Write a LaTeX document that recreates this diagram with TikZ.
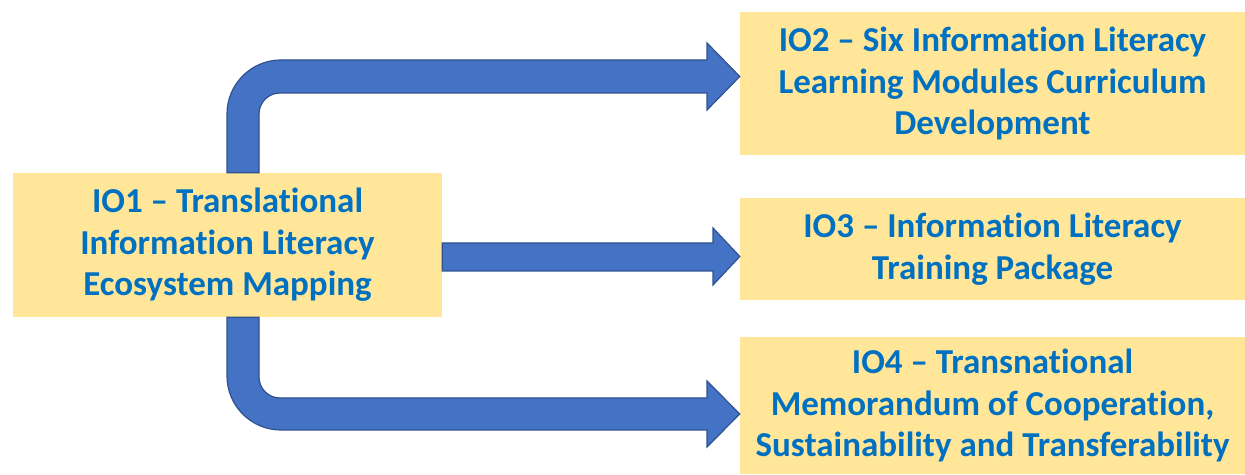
\documentclass[tikz,border=0pt]{standalone}
\usepackage{fontspec}
\setmainfont{Carlito}[Ligatures=NoCommon]
\usetikzlibrary{calc}
\definecolor{boxfill}{HTML}{FFE699}
\definecolor{boxtext}{HTML}{0070C0}
\definecolor{arrfill}{HTML}{4472C4}
\definecolor{arrline}{HTML}{2F528F}
\begin{document}
\begin{tikzpicture}
    [x=1pt,y=1pt,
     io/.style={fill=boxfill,text=boxtext,align=center,inner sep=0pt,
       font=\bfseries\fontsize{35}{41.5}\selectfont},
     blockarrow/.style={fill=arrfill,draw=arrline,line width=1.2pt,line join=miter}]
    \useasboundingbox (0,0) rectangle (1245,474);
    \node [io,minimum width=429,minimum height=144] (io1) at (227.5,229)
      {IO1 -- Translational\\Information Literacy\\Ecosystem Mapping};
    \node [io,minimum width=505,minimum height=143] (io2) at (992.5,390.5)
      {IO2 -- Six Information Literacy\\Learning Modules Curriculum\\Development};
    \node [io,minimum width=505,minimum height=102] (io3) at (992.5,225)
      {IO3 -- Information Literacy\\Training Package};
    \node [io,minimum width=505,minimum height=137] (io4) at (992.5,68.5)
      {IO4 -- Transnational\\Memorandum of Cooperation,\\Sustainability and Transferability};
    % up and over to io2
    \draw [blockarrow] ($(io1.north)+(-0.5,0)$) -- (227,360)
      arc [start angle=180,end angle=90,radius=54] -- (707,414) -- (707,431)
      -- ($(io2.west)+(0,7)$) -- (707,364) -- (707,381) -- (280,381)
      arc [start angle=90,end angle=180,radius=21] -- ($(io1.north)+(31.5,0)$) -- cycle;
    % straight to io3
    \draw [blockarrow] ($(io1.east)+(0,2)$) -- (713,231) -- (713,246)
      -- ($(io3.west)+(0,-7.5)$) -- (713,189) -- (713,203) -- ($(io1.east)+(0,-26)$) -- cycle;
    % down and over to io4
    \draw [blockarrow] ($(io1.south)+(-0.5,0)$) -- (227,98)
      arc [start angle=180,end angle=270,radius=54] -- (707,44) -- (707,27)
      -- ($(io4.west)+(0,-8.5)$) -- (707,93) -- (707,76) -- (280,76)
      arc [start angle=270,end angle=180,radius=21] -- ($(io1.south)+(31.5,0)$) -- cycle;
  \end{tikzpicture}
\end{document}
